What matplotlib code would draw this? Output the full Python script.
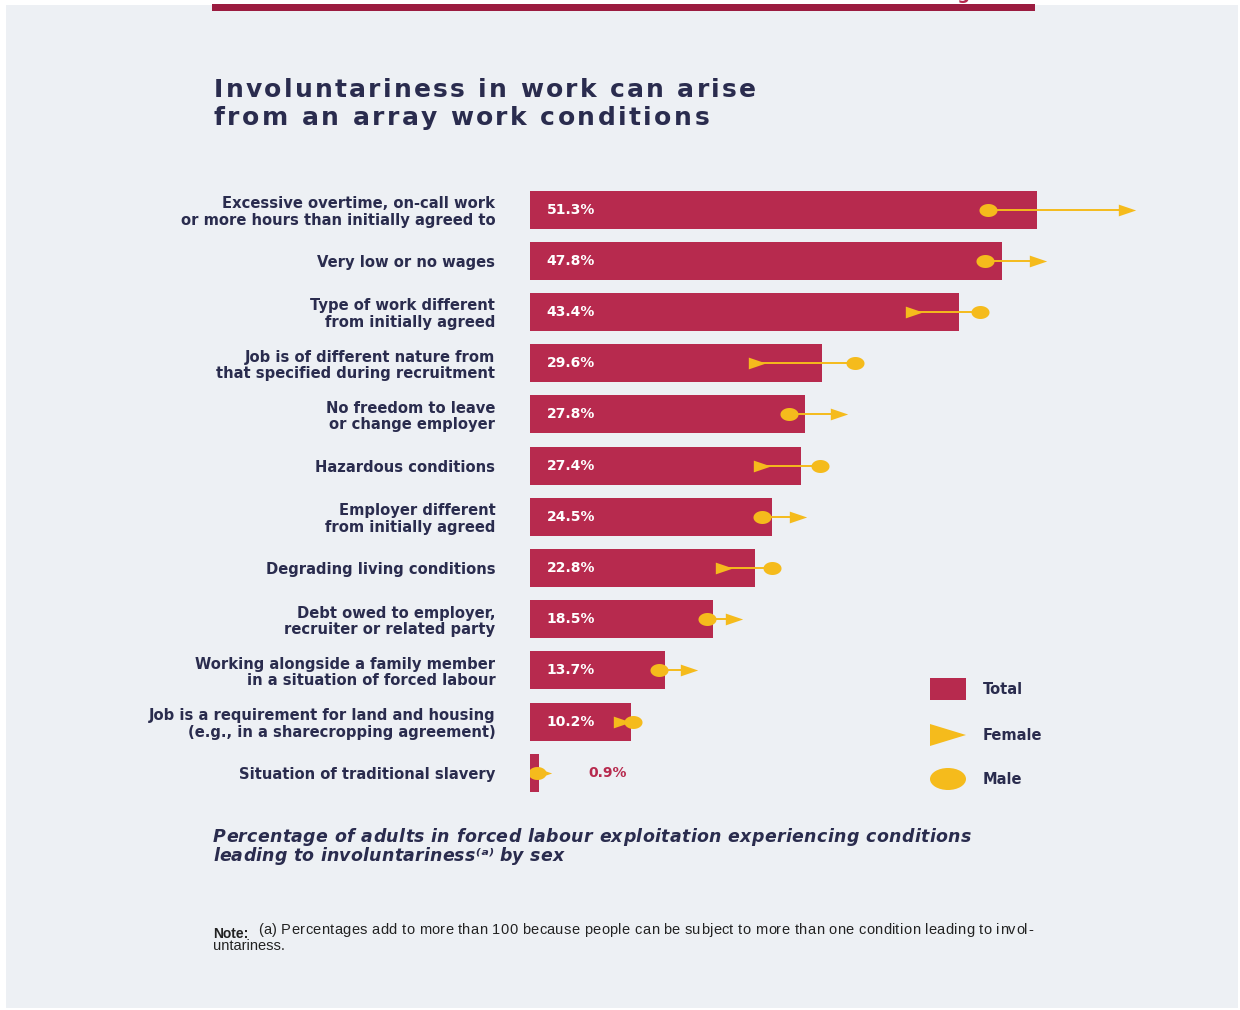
import matplotlib
matplotlib.use('Agg')
import matplotlib.pyplot as plt
from matplotlib.path import Path
from matplotlib.patches import Rectangle, Ellipse, Polygon
from matplotlib.font_manager import FontProperties
import numpy as np

categories = [
    "Excessive overtime, on-call work\nor more hours than initially agreed to",
    "Very low or no wages",
    "Type of work different\nfrom initially agreed",
    "Job is of different nature from\nthat specified during recruitment",
    "No freedom to leave\nor change employer",
    "Hazardous conditions",
    "Employer different\nfrom initially agreed",
    "Degrading living conditions",
    "Debt owed to employer,\nrecruiter or related party",
    "Working alongside a family member\nin a situation of forced labour",
    "Job is a requirement for land and housing\n(e.g., in a sharecropping agreement)",
    "Situation of traditional slavery",
]
total = [51.3, 47.8, 43.4, 29.6, 27.8, 27.4, 24.5, 22.8, 18.5, 13.7, 10.2, 0.9]
female = [60.4, 51.4, 38.9, 23.0, 31.3, 23.5, 27.1, 19.6, 20.6, 16.1, 9.3, 1.3]
male = [46.4, 46.1, 45.5, 32.9, 26.2, 29.4, 23.5, 24.5, 17.9, 13.1, 10.4, 0.7]
legend_labels = ["Total", "Female", "Male"]

W, H = 1240, 1010
BG = "#edf0f4"
CRIMSON = "#b72a4e"
DARK_CRIMSON = "#9b1c40"
YELLOW = "#f5bb1c"
NAVY = "#2a2c4e"

fig = plt.figure(figsize=(W / 100, H / 100), dpi=100, facecolor="white")
renderer = fig.canvas.get_renderer()


def fx(x):
    return x / W


def fy(y):
    return 1 - y / H


def tracked(x_px, y_px, s, width_px, prop, color):
    """Draw text with letter spacing so that it spans width_px (baseline at y_px)."""
    def w(t):
        return renderer.get_text_width_height_descent(t, prop, ismath=False)[0]
    wx = w("x")
    pos = [0.0] + [w(s[:i] + "x") - wx for i in range(1, len(s))]
    natural = w(s)
    extra = (width_px - natural) / max(len(s) - 1, 1)
    for i, ch in enumerate(s):
        if ch == " ":
            continue
        fig.text(fx(x_px + pos[i] + i * extra), fy(y_px), ch, ha="left", va="baseline",
                 fontproperties=prop, color=color)


# panel background
fig.patches.append(Rectangle((fx(6), fy(1008)), fx(1238) - fx(6), fy(5) - fy(1008),
                             transform=fig.transFigure, facecolor=BG, edgecolor="none", zorder=-10))
# top crimson rule
fig.patches.append(Rectangle((fx(212), fy(11)), fx(1035) - fx(212), fy(4) - fy(11),
                             transform=fig.transFigure, facecolor=DARK_CRIMSON, edgecolor="none", zorder=-5))
fig.text(fx(1035), fy(3), "Figure 11", ha="right", va="bottom", color=CRIMSON,
         fontsize=13, fontweight="bold")

# main axes
px_per_pct = 9.88
ax_left, ax_right = 530, 1140
top_px, row_h = 184, 51.2
n = len(categories)
ax = fig.add_axes([fx(ax_left), fy(top_px + n * row_h), (ax_right - ax_left) / W, n * row_h / H])
ax.set_facecolor("none")
ax.set_xlim(0, (ax_right - ax_left) / px_per_pct)
ax.set_ylim(n - 0.5, -0.5)
y = np.arange(n)

ax.barh(y, total, height=0.74, color=CRIMSON, zorder=2)

for i in range(n):
    ax.plot([male[i], female[i]], [y[i], y[i]], color=YELLOW, lw=1.4, zorder=3, solid_capstyle="butt")

t = np.linspace(0, 2 * np.pi, 60)
ell = Path(np.c_[np.cos(t), 0.72 * np.sin(t)], closed=True)
tri = Path([(-1, -0.68), (1, 0), (-1, 0.68), (-1, -0.68)], closed=True)
ax.plot(female, y, linestyle="none", marker=tri, markersize=12.5, color=YELLOW,
        markeredgewidth=0, zorder=4)
ax.plot(male, y, linestyle="none", marker=ell, markersize=13, color=YELLOW,
        markeredgewidth=0, zorder=5)

for i in range(n):
    if total[i] > 5:
        ax.text(1.7, y[i], f"{total[i]:.1f}%", ha="left", va="center", color="white",
                fontsize=10, fontweight="bold", zorder=6)
    else:
        ax.text(total[i] + 5.0, y[i], f"{total[i]:.1f}%", ha="left", va="center",
                color=CRIMSON, fontsize=10, fontweight="bold", zorder=6)

ax.set_yticks(y)
ax.set_yticklabels(categories, fontsize=10.6, fontweight="bold", color=NAVY, linespacing=1.13)
ax.tick_params(axis="y", length=0, pad=25)
ax.set_xticks([])
for s in ax.spines.values():
    s.set_visible(False)

# overlay for legend
lax = fig.add_axes([0, 0, 1, 1])
lax.set_xlim(0, W)
lax.set_ylim(H, 0)
lax.axis("off")
lax.add_patch(Rectangle((930, 678), 36, 22, facecolor=CRIMSON, edgecolor="none"))
lax.add_patch(Polygon([(930, 724), (966, 735), (930, 746)], closed=True, facecolor=YELLOW, edgecolor="none"))
lax.add_patch(Ellipse((948, 779), 36, 22, facecolor=YELLOW, edgecolor="none"))
for yy, lab in zip([689, 735, 779], legend_labels):
    lax.text(983, yy, lab, ha="left", va="center", fontsize=10.5, fontweight="bold", color=NAVY)

# title (letter-spaced)
title_prop = FontProperties(family="DejaVu Sans", size=18, weight="bold")
tracked(214, 97, "Involuntariness in work can arise", 542, title_prop, NAVY)
tracked(214, 125, "from an array work conditions", 495, title_prop, NAVY)

# subtitle
sub_prop = FontProperties(family="DejaVu Sans", size=12.5, weight="bold", style="italic")
tracked(213, 842, "Percentage of adults in forced labour exploitation experiencing conditions", 758,
        sub_prop, NAVY)
tracked(213, 861, "leading to involuntariness\u207d\u1d43\u207e by sex", 351, sub_prop, NAVY)

# note
note_prop = FontProperties(family="Liberation Sans", size=10.5)
note_bold = FontProperties(family="Liberation Sans", size=10, weight="bold")
fig.text(fx(213), fy(938), "Note:", ha="left", va="baseline", fontproperties=note_bold, color="#222222")
tracked(258, 934,
        "(a) Percentages add to more than 100 because people can be subject to more than one condition leading to invol-",
        775, note_prop, "#222222")
fig.text(fx(213), fy(950), "untariness.", ha="left", va="baseline", fontproperties=note_prop, color="#222222")

fig.savefig("out.png", dpi=100, facecolor="white")
